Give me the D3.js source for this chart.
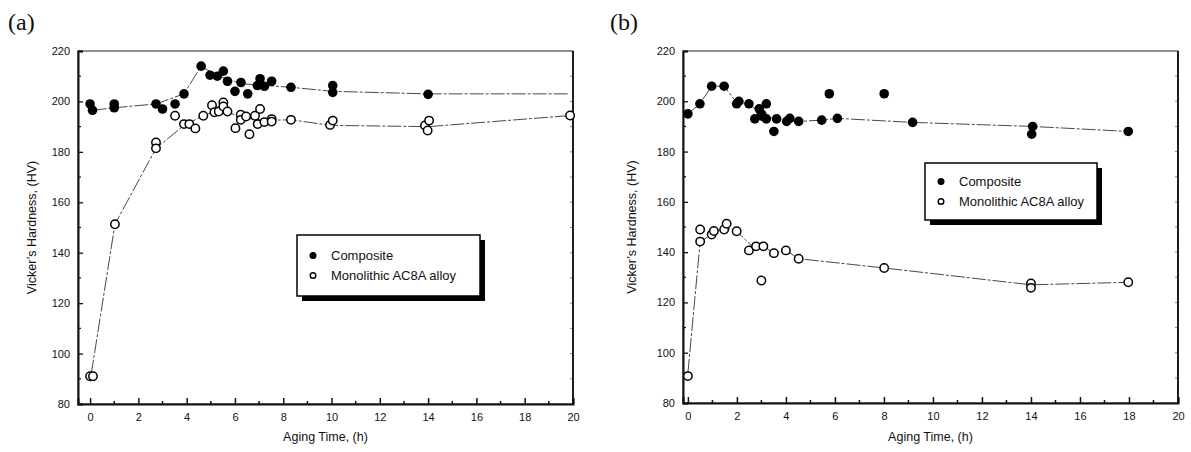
<!DOCTYPE html>
<html>
<head>
<meta charset="utf-8">
<script src="https://cdn.jsdelivr.net/npm/d3@7"></script>
<style>
  body { margin: 0; background: #fff; }
  svg { display: block; }
  text { font-family: "Liberation Sans", Arial, sans-serif; fill: #111; }
</style>
</head>
<body>
<div id="chart"></div>
<script>
// aging time (h) / Vickers hardness (HV)

// (a) measured points
var compA = [
    [0, 199], [0.1, 196.5], [1, 199], [1, 197.5], [2.73, 199], [3.0, 197], [3.52, 199], [3.89, 203],
    [4.6, 214], [4.97, 210.4], [5.27, 210], [5.52, 212], [5.69, 208], [6.0, 204], [6.25, 207.5],
    [6.53, 203], [6.93, 206.3], [7.04, 209], [7.22, 206], [7.52, 208], [8.32, 205.6],
    [10.05, 206.3], [10.05, 203.6], [14.0, 202.8]
];
var monoA = [
    [0, 91], [0.12, 91], [1.03, 151.3], [2.73, 183.7], [2.73, 181.4], [3.52, 194.3], [3.89, 191],
    [4.11, 191], [4.36, 189.3], [4.69, 194.3], [5.05, 198.5], [5.15, 195.7], [5.33, 196],
    [5.52, 199.6], [5.52, 198], [5.69, 196], [6.02, 189.4], [6.24, 194.7], [6.24, 192.7],
    [6.46, 194], [6.6, 187], [6.83, 194.3], [7.04, 197], [6.94, 191], [7.22, 191.8],
    [7.52, 193], [7.52, 192], [8.32, 192.7], [9.94, 190.7], [10.05, 192.4],
    [13.87, 190.5], [14.04, 192.4], [13.98, 188.5], [19.88, 194.4]
];
// (a) trend lines drawn through the points
var compLineA = [
    [0.1, 196.5], [1, 197.5], [2.73, 199], [3.89, 203], [4.6, 214], [5.3, 210], [6.3, 207],
    [7.0, 206.5], [8.32, 205.6], [10.05, 204], [14, 203], [19.8, 203]
];
var monoLineA = [
    [0.05, 92], [1.03, 151.3], [2.73, 181.4], [3.89, 190.5], [4.69, 194.3], [5.4, 197],
    [6.3, 193.5], [7.22, 192.5], [8.32, 192.7], [10, 190.5], [14, 190], [19.88, 194.4]
];

// (b) measured points
var compB = [
    [0, 195], [0.49, 199], [0.97, 206], [1.48, 206], [1.99, 199], [2.08, 200], [2.49, 199],
    [2.73, 193], [2.91, 197], [3.0, 195], [3.05, 194], [3.2, 193], [3.2, 199], [3.51, 188],
    [3.62, 193], [4.03, 192], [4.16, 193.2], [4.52, 192], [5.46, 192.5], [5.77, 203],
    [6.1, 193.2], [8.01, 203], [9.17, 191.6], [14.07, 190], [14.03, 186.9], [17.97, 188]
];
var monoB = [
    [0, 90.7], [0.5, 149], [0.5, 144.2], [0.97, 147], [1.06, 148.4], [1.48, 149], [1.58, 151.3],
    [1.99, 148.3], [2.49, 140.7], [2.78, 142.3], [3.08, 142.3], [3.0, 128.7], [3.51, 139.6],
    [4.0, 140.7], [4.52, 137.4], [8.01, 133.7], [14.0, 127.5], [14.0, 125.8], [17.97, 128]
];
var compLineB = [
    [0, 195], [0.49, 199], [0.97, 206], [1.48, 206], [1.99, 199.5], [2.49, 199], [3.0, 195],
    [3.5, 193], [4.52, 192], [5.46, 192.5], [6.1, 193.2], [9.17, 191.6], [14.05, 190], [17.97, 188]
];
var monoLineB = [
    [0, 92], [0.5, 144.2], [0.97, 147], [1.48, 150], [1.99, 148.3], [2.6, 142.5], [3.08, 142.3],
    [3.51, 139.6], [4.0, 140.7], [4.52, 137.4], [8.01, 133.7], [14.0, 127], [17.97, 128]
];

var xTicks = [0, 2, 4, 6, 8, 10, 12, 14, 16, 18, 20];
var yTicks = [80, 100, 120, 140, 160, 180, 200, 220];
var legendNames = ['Composite', 'Monolithic AC8A alloy'];

var svg = d3.select('#chart').append('svg').attr('width', 1191).attr('height', 452);

function drawPanel(opt) {
    var x = d3.scaleLinear().domain([opt.xmin, 20]).range([opt.left, opt.right]);
    var y = d3.scaleLinear().domain([80, 220]).range([opt.bottom, opt.top]);
    var g = svg.append('g');

    // panel label
    g.append('text').attr('x', opt.labelX).attr('y', 30)
        .style('font-family', '"Liberation Serif", "Times New Roman", serif')
        .style('font-size', '24px').text(opt.label);

    // frame
    g.append('rect').attr('x', opt.left).attr('y', opt.top)
        .attr('width', opt.right - opt.left).attr('height', opt.bottom - opt.top)
        .attr('fill', 'none').attr('stroke', '#222').attr('stroke-width', 1);

    // bottom axis, ticks pointing in
    var xAxis = d3.axisBottom(x).tickValues(xTicks).tickSize(-6).tickPadding(9).tickFormat(d3.format('d'));
    var gx = g.append('g').attr('transform', 'translate(0,' + opt.bottom + ')').call(xAxis);
    gx.select('.domain').attr('stroke', '#111').attr('stroke-width', 2);
    gx.selectAll('.tick line').attr('stroke', '#111').attr('stroke-width', 1.5);
    gx.selectAll('text').style('font-size', '11px').attr('fill', '#111');
    gx.append('g').selectAll('line').data(d3.range(1, 20, 2)).join('line')
        .attr('x1', function(d) { return x(d); }).attr('x2', function(d) { return x(d); })
        .attr('y1', 0).attr('y2', -3).attr('stroke', '#111').attr('stroke-width', 1.5);

    // left axis
    var yAxis = d3.axisLeft(y).tickValues(yTicks).tickSize(-5).tickPadding(8);
    var gy = g.append('g').attr('transform', 'translate(' + opt.left + ',0)').call(yAxis);
    gy.select('.domain').attr('stroke', '#111').attr('stroke-width', 2);
    gy.selectAll('.tick line').attr('stroke', '#111').attr('stroke-width', 1.3);
    gy.selectAll('text').style('font-size', '11px').attr('fill', '#111');
    gy.append('g').selectAll('line').data(d3.range(90, 220, 20)).join('line')
        .attr('x1', 0).attr('x2', 3)
        .attr('y1', function(d) { return y(d); }).attr('y2', function(d) { return y(d); })
        .attr('stroke', '#111').attr('stroke-width', 1.2);

    // right frame minor ticks
    g.append('g').selectAll('line').data(d3.range(90, 220, 10)).join('line')
        .attr('x1', opt.right).attr('x2', opt.right - 3)
        .attr('y1', function(d) { return y(d); }).attr('y2', function(d) { return y(d); })
        .attr('stroke', '#888').attr('stroke-width', 1);
    g.append('line').attr('x1', opt.right).attr('x2', opt.right)
        .attr('y1', opt.top).attr('y2', opt.bottom).attr('stroke', '#111').attr('stroke-width', 1.8);

    // axis titles
    g.append('text').attr('x', (opt.left + opt.right) / 2).attr('y', 441)
        .attr('text-anchor', 'middle').style('font-size', '12.5px').text('Aging Time, (h)');
    g.append('text')
        .attr('transform', 'translate(' + opt.ytitleX + ',' + ((opt.top + opt.bottom) / 2) + ') rotate(-90)')
        .attr('text-anchor', 'middle').style('font-size', '12.5px').text('Vicker\u2019s Hardness, (HV)');

    // trend lines
    var line = d3.line().x(function(d) { return x(d[0]); }).y(function(d) { return y(d[1]); });
    [opt.compLine, opt.monoLine].forEach(function(pts) {
        g.append('path').attr('d', line(pts)).attr('fill', 'none')
            .attr('stroke', '#333').attr('stroke-width', 0.9).attr('stroke-dasharray', '14,2,3,2');
    });

    // markers
    g.append('g').selectAll('circle').data(opt.comp).join('circle')
        .attr('cx', function(d) { return x(d[0]); }).attr('cy', function(d) { return y(d[1]); })
        .attr('r', 4.8).attr('fill', '#000');
    g.append('g').selectAll('circle').data(opt.mono).join('circle')
        .attr('cx', function(d) { return x(d[0]); }).attr('cy', function(d) { return y(d[1]); })
        .attr('r', 4.2).attr('fill', '#fff').attr('stroke', '#000').attr('stroke-width', 1.5);

    // legend with drop shadow
    var lg = g.append('g').attr('transform', 'translate(' + opt.legX + ',' + opt.legY + ')');
    lg.append('rect').attr('x', 5).attr('y', 5).attr('width', opt.legW).attr('height', opt.legH).attr('fill', '#000');
    lg.append('rect').attr('x', 0).attr('y', 0).attr('width', opt.legW).attr('height', opt.legH)
        .attr('fill', '#fff').attr('stroke', '#000').attr('stroke-width', 1.5);
    legendNames.forEach(function(name, i) {
        var cy = opt.legH / 2 - 10 + i * 20;
        lg.append('circle').attr('cx', 16).attr('cy', cy).attr('r', i === 0 ? 3.5 : 2.8)
            .attr('fill', i === 0 ? '#000' : '#fff').attr('stroke', '#000').attr('stroke-width', i === 0 ? 0 : 1.4);
        lg.append('text').attr('x', 34).attr('y', cy + 4.5).style('font-size', '13px').text(name);
    });
}

drawPanel({
    label: '(a)', labelX: 8, xmin: -0.5, left: 78, right: 573, top: 51, bottom: 404, ytitleX: 36,
    comp: compA, mono: monoA, compLine: compLineA, monoLine: monoLineA,
    legX: 297, legY: 235, legW: 183, legH: 61
});
drawPanel({
    label: '(b)', labelX: 610, xmin: -0.2, left: 683, right: 1178, top: 51, bottom: 403, ytitleX: 636,
    comp: compB, mono: monoB, compLine: compLineB, monoLine: monoLineB,
    legX: 925, legY: 163, legW: 172, legH: 57
});
</script>
</body>
</html>
